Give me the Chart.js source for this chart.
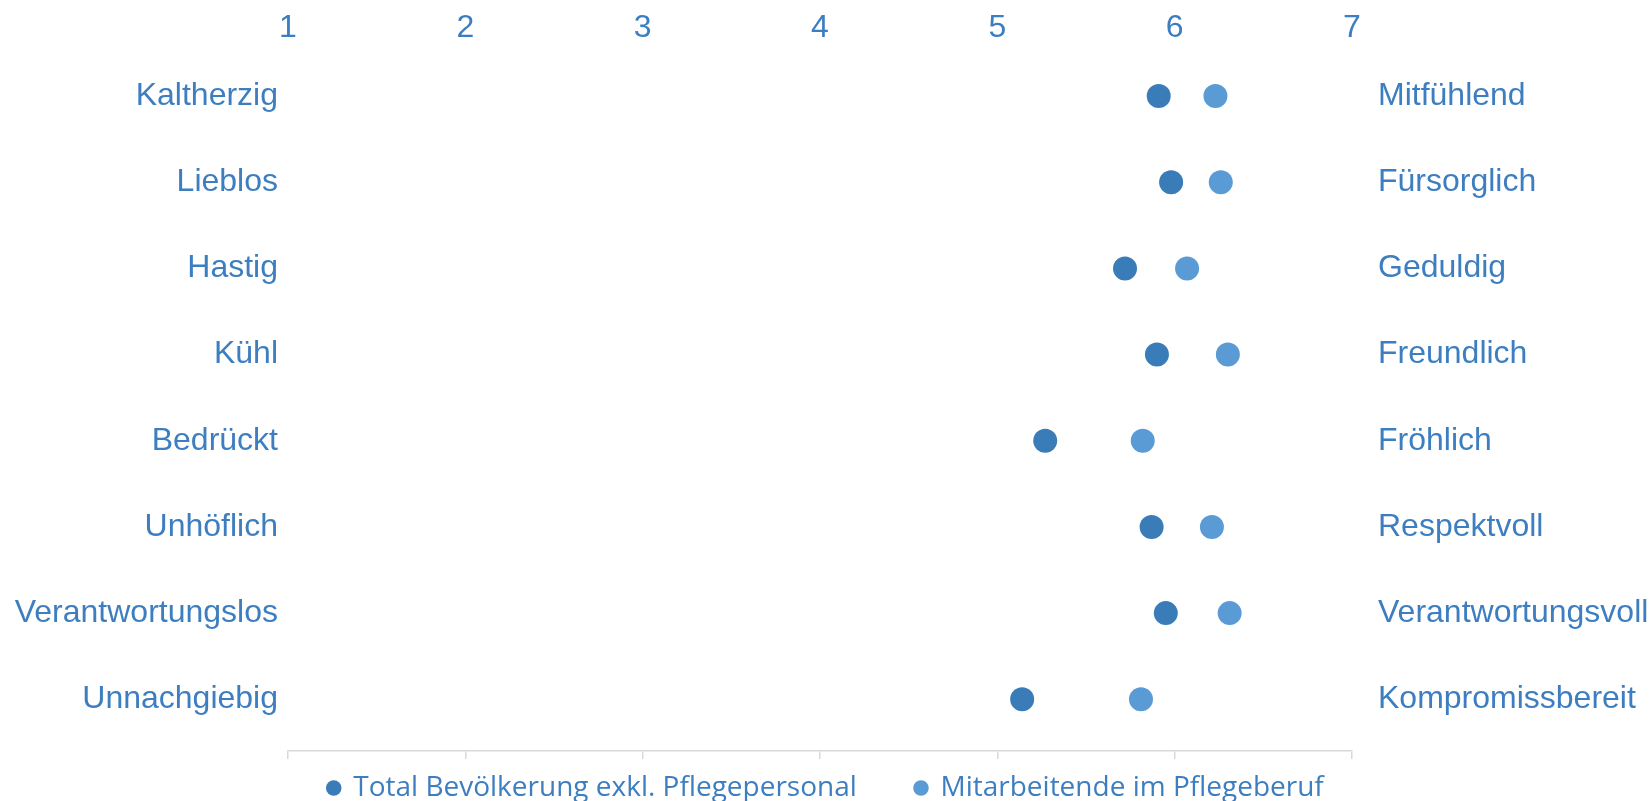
<!DOCTYPE html>
<html>
<head>
<meta charset="utf-8">
<script src="https://cdn.jsdelivr.net/npm/chart.js@4/dist/chart.umd.min.js"></script>
<style>
  html, body { margin: 0; padding: 0; background: #ffffff; }
  #wrap { width: 1652px; height: 801px; }
</style>
</head>
<body>
<div id="wrap"><canvas id="myChart" width="1652" height="801"></canvas></div>
<script>
// negative / positive pole of each scale
var leftLabels = ["Kaltherzig", "Lieblos", "Hastig", "Kühl", "Bedrückt", "Unhöflich", "Verantwortungslos", "Unnachgiebig"];
var rightLabels = ["Mitfühlend", "Fürsorglich", "Geduldig", "Freundlich", "Fröhlich", "Respektvoll", "Verantwortungsvoll", "Kompromissbereit"];

// mean ratings (1-7)
var totalValues = [5.91, 5.98, 5.72, 5.90, 5.27, 5.87, 5.95, 5.14];
var pflegeValues = [6.23, 6.26, 6.07, 6.30, 5.82, 6.21, 6.31, 5.81];

var seriesNames = ["Total Bevölkerung exkl. Pflegepersonal", "Mitarbeitende im Pflegeberuf"];
var xTicks = [1, 2, 3, 4, 5, 6, 7];

var textColor = "#3D7EC0";
var labelFont = { family: "'Liberation Sans', Arial, sans-serif", size: 32 };

function toPoints(values){
    return values.map((v, i) => ({ x: v, y: i }));
}

function rowTicks(axis){
    axis.ticks = leftLabels.map((_, i) => ({ value: i }));
}

const data = {
    datasets: [
    {
        label: seriesNames[0],
        data: toPoints(totalValues),
        backgroundColor: "#3A7CB8",
        borderColor: "#3A7CB8",
        pointRadius: 12,
        pointHoverRadius: 12,
        borderWidth: 0
    },
    {
        label: seriesNames[1],
        data: toPoints(pflegeValues),
        backgroundColor: "#5B9BD5",
        borderColor: "#5B9BD5",
        pointRadius: 12,
        pointHoverRadius: 12,
        borderWidth: 0
    }]
};

const config = {
    type: "scatter",
    data: data,
    options: {
        responsive: false,
        animation: false,
        events: [],
        layout: { padding: { top: 0, left: 0, right: 0, bottom: -11 } },
        plugins: {
            tooltip: { enabled: false },
            legend: {
                position: "bottom",
                labels: {
                    usePointStyle: true,
                    pointStyle: "circle",
                    boxWidth: 11,
                    boxHeight: 11,
                    padding: 15,
                    color: textColor,
                    font: { family: "'Open Sans', sans-serif", size: 28 },
                    // extra gap after the first entry
                    generateLabels: chart => {
                        var items = Chart.defaults.plugins.legend.labels.generateLabels(chart);
                        items[0].text = items[0].text + "      ";
                        return items;
                    }
                }
            }
        },
        scales: {
            x: {
                type: "linear",
                position: "top",
                min: 1,
                max: 7,
                afterBuildTicks: axis => { axis.ticks = xTicks.map(v => ({ value: v })); },
                afterFit: axis => { axis.height = 53; },
                grid: { display: false, drawTicks: false },
                border: { display: false },
                ticks: { color: textColor, font: labelFont, padding: 6, maxRotation: 0 }
            },
            x2: {
                type: "linear",
                position: "bottom",
                min: 1,
                max: 7,
                afterBuildTicks: axis => { axis.ticks = xTicks.map(v => ({ value: v })); },
                afterFit: axis => { axis.height = 8; },
                grid: { drawOnChartArea: false, drawTicks: true, tickLength: 8, color: "#D9D9D9", lineWidth: 1.5 },
                border: { display: true, color: "#D9D9D9", width: 1.5 },
                ticks: { display: false }
            },
            y: {
                type: "linear",
                position: "left",
                min: -0.5,
                max: 7.6,
                reverse: true,
                afterBuildTicks: rowTicks,
                afterFit: axis => { axis.width = 288; },
                grid: { display: false, drawTicks: false },
                border: { display: false },
                ticks: {
                    autoSkip: false,
                    color: textColor,
                    font: labelFont,
                    padding: 10,
                    callback: v => leftLabels[v]
                }
            },
            y2: {
                type: "linear",
                position: "right",
                min: -0.5,
                max: 7.6,
                reverse: true,
                afterBuildTicks: rowTicks,
                afterFit: axis => { axis.width = 300; },
                grid: { display: false, drawTicks: false },
                border: { display: false },
                ticks: {
                    autoSkip: false,
                    color: textColor,
                    font: labelFont,
                    padding: 26,
                    callback: v => rightLabels[v]
                }
            }
        }
    }
};

var mychart = new Chart(document.getElementById("myChart").getContext("2d"), config);
</script>
</body>
</html>
